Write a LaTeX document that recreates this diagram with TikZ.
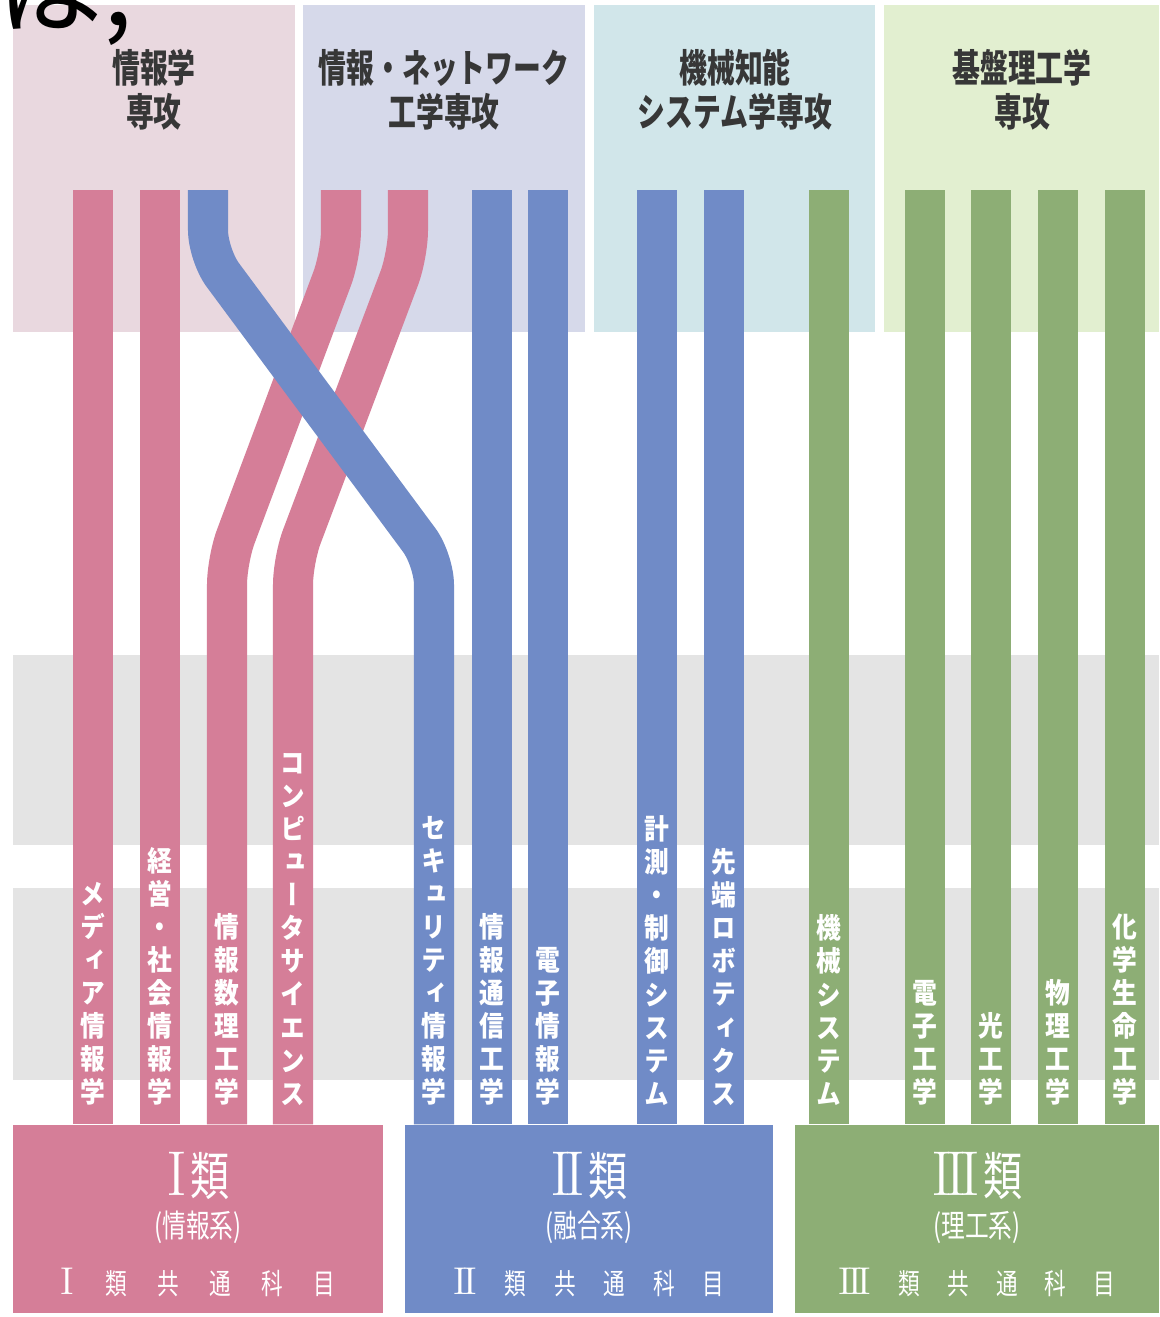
\documentclass[tikz,border=0pt]{standalone}
\usepackage{fontspec}
\newfontfamily\headfont[FakeStretch=0.72]{Noto Sans CJK JP}
\newfontfamily\tatefont[FakeStretch=0.88,RawFeature=+vert]{Noto Sans CJK JP}
\newfontfamily\clsfont[FakeStretch=0.75]{Noto Sans CJK JP}
\newfontfamily\handfont{Noto Sans CJK JP}

\definecolor{pinkband}{RGB}{213,126,152}
\definecolor{blueband}{RGB}{112,139,199}
\definecolor{greenband}{RGB}{141,174,117}
\definecolor{hdpink}{RGB}{233,216,223}
\definecolor{hdblue}{RGB}{214,217,234}
\definecolor{hdcyan}{RGB}{209,230,234}
\definecolor{hdgreen}{RGB}{226,239,208}
\definecolor{bandgray}{RGB}{228,228,228}
\definecolor{headtext}{RGB}{55,55,55}

% one character per line, for the course names in the bands
\makeatletter
\newcommand\tatelabel[1]{\vbox{\baselineskip=9.4pt\lineskip=0pt\lineskiplimit=-20pt
  \expandafter\@tfor\expandafter\tatech\expandafter:\expandafter=#1\do{\hbox to 1em{\hss\tatech\hss}}}}
\makeatother
% serif roman numerals for the classes
\newcommand\bignum[1]{{\rmfamily\mdseries\fontsize{18}{20}\selectfont #1}}
\newcommand\smallnum[1]{{\rmfamily\mdseries\fontsize{11}{12}\selectfont #1}}

\begin{document}
\begin{tikzpicture}[x=0.01cm,y=-0.01cm,
  hdbox/.style={inner sep=0pt, minimum height=3.27cm},
  hdlabel/.style={font=\headfont\bfseries\fontsize{11}{12.5}\selectfont, text=headtext, align=center, inner sep=0pt},
  band/.style={line width=0.4cm, line cap=butt, rounded corners=0.25cm},
  tate/.style={font=\tatefont\bfseries\fontsize{8}{9.4}\selectfont, text=white, inner sep=0pt, anchor=south},
  clsbox/.style={inner sep=0pt, minimum height=1.88cm},
  clsbig/.style={font=\clsfont\fontsize{14.8}{16}\selectfont, text=white, inner sep=0pt},
  clssub/.style={font=\clsfont\fontsize{9}{10}\selectfont, text=white, inner sep=0pt},
  clsrow/.style={font=\clsfont\fontsize{8.2}{9}\selectfont, text=white, inner sep=0pt}]

\fill[white] (0,0) rectangle (1159,1317);
\useasboundingbox (0,0) rectangle (1159,1317);

% graduate schools
\node[hdbox, fill=hdpink,  minimum width=2.82cm] (hd1) at (154,168.5) {};
\node[hdbox, fill=hdblue,  minimum width=2.82cm] (hd2) at (444,168.5) {};
\node[hdbox, fill=hdcyan,  minimum width=2.81cm] (hd3) at (734.5,168.5) {};
\node[hdbox, fill=hdgreen, minimum width=2.75cm] (hd4) at (1021.5,168.5) {};
\node[hdlabel] (hd1t) at (154,90) {情報学\\専攻};
\node[hdlabel] (hd2t) at (444,90) {情報・ネットワーク\\工学専攻};
\node[hdlabel] (hd3t) at (735,90) {機械知能\\システム学専攻};
\node[hdlabel] (hd4t) at (1022,90) {基盤理工学\\専攻};

% handwritten remnant at the top edge
\node[font=\handfont\fontsize{30}{30}\selectfont, anchor=base west, inner sep=0pt] (hw) at (-3,25) {は,};

% grey rows
\fill[bandgray] (13,655) rectangle (1159,845);
\fill[bandgray] (13,888) rectangle (1159,1080);

% classes
\node[clsbox, fill=pinkband,  minimum width=3.70cm] (cls1) at (198,1219) {};
\node[clsbox, fill=blueband,  minimum width=3.68cm] (cls2) at (589,1219) {};
\node[clsbox, fill=greenband, minimum width=3.64cm] (cls3) at (977,1219) {};

% straight bands
\foreach \x/\c/\n in {93/pinkband/1, 160/pinkband/1,
    492/blueband/2, 548/blueband/2, 657/blueband/2, 724/blueband/2,
    829/greenband/3, 925/greenband/3, 991/greenband/3, 1058/greenband/3, 1125/greenband/3}{
  \coordinate (top\x) at (\x,190);
  \draw[band, draw=\c] (top\x) -- (top\x |- cls\n.north);
}

% crossing bands
\coordinate (ist) at (341,190);
\coordinate (isb) at (227,560);
\coordinate (cst) at (408,190);
\coordinate (csb) at (293,560);
\coordinate (sct) at (208,190);
\coordinate (scb) at (434,560);
\draw[band, draw=pinkband] (ist) -- ++(0,65) -- (isb) -- (isb |- cls1.north);
\draw[band, draw=pinkband] (cst) -- ++(0,65) -- (csb) -- (csb |- cls1.north);
\draw[band, draw=blueband] (sct) -- ++(0,65) -- (scb) -- (scb |- cls2.north);

% course names
\foreach \x/\t in {93/メディア情報学, 160/経営・社会情報学, 227/情報数理工学, 293/コンピュータサイエンス,
    434/セキュリティ情報学, 492/情報通信工学, 548/電子情報学, 657/計測・制御システム, 724/先端ロボティクス,
    829/機械システム, 925/電子工学, 991/光工学, 1058/物理工学, 1125/化学生命工学}
  \node[tate] (lab\x) at (\x,1106) {\tatelabel{\t}};

% class texts
\node[clsbig] (cls1t) at ([yshift=-0.52cm]cls1.north) {\bignum{I}\kern1pt類};
\node[clssub] (cls1s) at ([yshift=-1.03cm]cls1.north) {(情報系)};
\node[clsrow] (cls1r) at ([yshift=-1.58cm]cls1.north) {\hbox to 2.74cm{\smallnum{I}\hfil 類\hfil 共\hfil 通\hfil 科\hfil 目}};
\node[clsbig] (cls2t) at ([yshift=-0.52cm]cls2.north) {\bignum{I\kern-2ptI}\kern1pt類};
\node[clssub] (cls2s) at ([yshift=-1.03cm]cls2.north) {(融合系)};
\node[clsrow] (cls2r) at ([yshift=-1.58cm]cls2.north) {\hbox to 2.70cm{\smallnum{I\kern-1.2ptI}\hfil 類\hfil 共\hfil 通\hfil 科\hfil 目}};
\node[clsbig] (cls3t) at ([yshift=-0.52cm]cls3.north) {\bignum{I\kern-2ptI\kern-2ptI}\kern1pt類};
\node[clssub] (cls3s) at ([yshift=-1.03cm]cls3.north) {(理工系)};
\node[clsrow] (cls3r) at ([yshift=-1.58cm]cls3.north) {\hbox to 2.76cm{\smallnum{I\kern-1.2ptI\kern-1.2ptI}\hfil 類\hfil 共\hfil 通\hfil 科\hfil 目}};
\end{tikzpicture}
\end{document}
